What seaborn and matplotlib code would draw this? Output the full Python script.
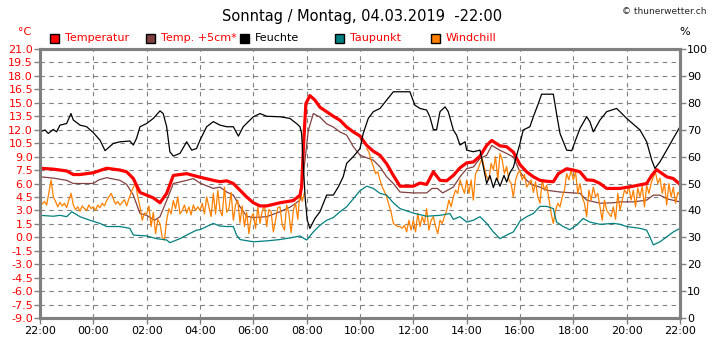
import numpy as np
import pandas as pd
import matplotlib
matplotlib.use("Agg")
import matplotlib.pyplot as plt
import seaborn as sns
from matplotlib.patches import Rectangle

# ---------------- data (hours since 22:00) ----------------
temp_t = [0.0, 0.5, 1.0, 1.25, 1.5, 2.0, 2.5, 3.0, 3.25, 3.5, 3.75, 4.0, 4.25, 4.5, 4.75, 5.0, 5.5, 6.0,
          6.5, 6.75, 7.0, 7.25, 7.5, 7.75, 8.0, 8.25, 8.5, 9.0, 9.5, 9.75, 9.81, 9.88, 9.97, 10.12, 10.31,
          10.5, 11.0, 11.25, 11.5, 11.75, 12.0, 12.25, 12.5, 12.75, 13.0, 13.25, 13.5, 14.0, 14.25, 14.5,
          14.75, 15.0, 15.25, 15.5, 15.75, 16.0, 16.25, 16.5, 16.75, 16.94, 17.25, 17.5, 17.75, 18.0,
          18.25, 18.5, 18.75, 19.0, 19.25, 19.44, 19.75, 20.0, 20.25, 20.5, 20.75, 21.0, 21.25, 21.75,
          22.25, 22.75, 22.94, 23.12, 23.5, 23.75, 24.0]
temp_v = [7.7, 7.6, 7.4, 7.0, 7.0, 7.2, 7.7, 7.5, 7.3, 6.55, 5.0, 4.7, 4.4, 3.85, 4.9, 6.9, 7.1, 6.7,
          6.35, 6.2, 6.3, 6.0, 5.25, 4.5, 3.85, 3.5, 3.5, 3.85, 4.1, 4.7, 5.6, 10.1, 14.9, 15.8, 15.3,
          14.5, 13.5, 13.05, 12.3, 11.75, 11.3, 10.25, 9.6, 9.15, 8.2, 6.9, 5.7, 5.7, 6.05, 5.9,
          7.3, 6.35, 6.3, 6.9, 7.75, 8.3, 8.4, 9.05, 10.25, 10.8, 10.2, 10.1, 9.5, 8.1,
          7.3, 6.75, 6.35, 6.25, 6.2, 7.1, 7.65, 7.5, 7.3, 6.4, 6.35, 6.0, 5.45, 5.45,
          5.7, 6.0, 6.9, 7.55, 6.75, 6.55, 5.9]

soil_t = [0.0, 0.5, 1.0, 1.25, 2.0, 2.2, 2.5, 3.0, 3.25, 3.5, 3.75, 4.0, 4.3, 4.5, 4.75, 5.0, 5.5, 5.75,
          6.0, 6.5, 6.75, 7.0, 7.25, 7.5, 7.75, 8.0, 8.5, 9.0, 9.4, 9.75, 9.88, 10.06, 10.25, 10.5, 10.75,
          11.0, 11.25, 11.5, 11.75, 12.0, 12.5, 12.75, 13.0, 13.25, 13.5, 14.0, 14.5, 14.7, 14.9, 15.1,
          15.5, 15.75, 16.0, 16.25, 16.5, 16.75, 16.94, 17.25, 17.5, 17.75, 18.0, 18.25, 18.5, 18.75,
          19.0, 19.5, 20.0, 20.25, 20.5, 21.0, 21.5, 21.75, 22.25, 22.75, 23.0, 23.25, 23.5, 24.0]
soil_v = [6.75, 6.6, 6.35, 6.0, 6.0, 6.4, 6.65, 6.35, 5.9, 4.7, 2.65, 2.45, 1.9, 2.3, 4.1, 6.0, 6.35, 6.55,
          6.05, 5.45, 5.6, 5.05, 4.7, 3.4, 2.35, 2.2, 2.3, 2.85, 3.4, 4.15, 7.1, 11.9, 13.8, 13.4, 12.65,
          12.3, 11.75, 11.4, 10.1, 9.15, 8.6, 7.85, 6.75, 6.0, 5.05, 4.95, 4.95, 5.45, 5.45, 4.95,
          5.6, 6.75, 7.65, 7.85, 8.8, 9.15, 10.25, 9.7, 9.35, 8.95, 7.3, 6.35, 5.8, 5.6,
          5.25, 5.05, 4.95, 4.9, 4.15, 3.8, 3.85, 3.95, 3.95, 4.15, 4.7, 4.7, 4.3, 3.95]

hum_t = [0.0, 0.19, 0.31, 0.5, 0.62, 0.75, 1.0, 1.16, 1.25, 1.5, 1.75, 2.0, 2.25, 2.44, 2.75, 3.0, 3.37,
         3.5, 3.62, 3.75, 4.0, 4.25, 4.5, 4.62, 4.75, 4.87, 5.0, 5.25, 5.5, 5.69, 5.87, 6.0, 6.25, 6.5,
         6.75, 7.0, 7.25, 7.44, 7.62, 8.0, 8.25, 8.5, 9.0, 9.37, 9.62, 9.75, 9.81, 9.94, 10.02, 10.12,
         10.31, 10.5, 10.75, 11.0, 11.19, 11.37, 11.5, 11.75, 12.0, 12.12, 12.31, 12.5, 12.75, 13.0,
         13.25, 13.87, 14.06, 14.25, 14.5, 14.62, 14.75, 14.87, 15.0, 15.19, 15.31, 15.5, 15.62, 15.75,
         15.94, 16.0, 16.25, 16.5, 16.75, 16.87, 17.0, 17.12, 17.25, 17.4, 17.5, 17.62, 17.75, 18.0,
         18.12, 18.37, 18.5, 18.69, 18.81, 19.25, 19.37, 19.5, 19.75, 19.94, 20.06, 20.25, 20.5, 20.62,
         20.75, 21.0, 21.25, 21.62, 21.75, 22.0, 22.5, 22.75, 22.94, 23.06, 23.25, 23.5, 23.75, 24.0]
hum_v = [69.2, 69.9, 68.6, 70.1, 69.2, 71.7, 72.3, 76.0, 73.6, 71.7, 71.1, 68.9, 66.1, 62.2, 64.9, 65.5, 65.8,
         64.3, 66.8, 71.1, 72.3, 74.2, 77.0, 76.0, 71.1, 61.8, 60.2, 61.2, 65.5, 62.4, 63.0, 66.1, 71.1, 73.0,
         71.7, 71.1, 71.1, 67.6, 71.1, 74.8, 76.0, 75.0, 74.8, 74.2, 72.3, 71.1, 68.6, 45.1, 36.4, 33.3,
         37.0, 39.5, 45.7, 45.7, 48.8, 52.5, 57.5, 60.0, 63.0, 68.6, 74.2, 76.7, 77.9, 81.0,
         84.1, 84.1, 79.1, 77.9, 77.3, 74.8, 70.1, 69.9, 76.7, 78.5, 76.7, 69.9, 68.0, 64.3,
         65.5, 62.4, 61.8, 62.4, 50.0, 53.0, 48.5, 52.0, 49.0, 53.0, 50.5, 54.0, 56.0, 64.9,
         69.9, 71.1, 74.8, 79.8, 83.2, 83.2, 76.0, 68.6, 62.4, 62.2, 65.5, 70.5, 74.8, 73.0,
         69.2, 73.6, 76.7, 77.9, 76.7, 74.2, 69.9, 65.5, 58.7, 55.6, 58.1, 62.4, 66.8, 71.1]

dew_t = [0.0, 0.5, 0.75, 1.0, 1.19, 1.5, 1.87, 2.25, 2.5, 3.0, 3.37, 3.5, 4.0, 4.37, 4.75, 4.87, 5.25, 5.5,
         5.87, 6.0, 6.5, 6.75, 7.0, 7.25, 7.37, 7.5, 8.0, 8.5, 9.0, 9.5, 9.75, 10.0, 10.25, 10.5, 10.75,
         11.0, 11.25, 11.5, 11.75, 12.0, 12.25, 12.5, 12.75, 13.0, 13.25, 13.5, 14.0, 14.5, 15.0, 15.37,
         15.5, 15.75, 16.0, 16.25, 16.5, 16.75, 17.0, 17.25, 17.5, 17.75, 18.0, 18.25, 18.5, 18.75, 19.0,
         19.25, 19.37, 19.62, 19.87, 20.12, 20.37, 20.62, 21.0, 21.5, 21.75, 22.0, 22.5, 22.75, 22.87,
         23.0, 23.25, 23.5, 23.75, 24.0]
dew_v = [2.45, 2.35, 2.45, 2.3, 2.85, 2.3, 1.9, 1.55, 1.2, 1.2, 1.0, 0.25, 0.15, -0.15, -0.3, -0.6, -0.15, 0.25,
         0.8, 0.85, 1.55, 1.25, 1.2, 1.2, 0.25, -0.25, -0.5, -0.4, -0.25, 0.0, 0.15, -0.3, 0.6, 1.35, 1.9,
         2.2, 2.85, 3.4, 4.3, 5.2, 5.7, 5.45, 4.9, 4.7, 3.85, 3.2, 2.7, 2.35, 2.45, 2.65,
         2.0, 2.3, 1.7, 1.9, 2.3, 1.55, 0.6, -0.15, 0.25, 0.6, 1.8, 2.3, 2.65, 3.45, 3.45,
         3.2, 1.7, 1.2, 0.85, 1.35, 2.1, 1.7, 1.45, 1.55, 1.45, 1.2, 1.0, 0.8, 0.05,
         -0.85, -0.5, 0.05, 0.6, 1.0]

# windchill every 5 minutes (one row per 2 h), NaN where not shown (T > 10 degC)
nan = np.nan
wind_v = [
    4.3, 3.7, 4.0, 3.6, 5.0, 6.4, 4.5, 4.0, 3.4, 3.9, 3.5, 3.8, 3.3, 4.2, 4.9, 3.6, 3.1, 3.4, 2.9, 3.5, 3.2, 3.0, 3.6, 3.2,
    3.4, 3.0, 3.6, 3.3, 3.8, 3.5, 4.1, 4.5, 4.9, 4.3, 3.7, 4.0, 3.6, 3.9, 4.2, 3.5, 4.3, 5.0, 5.6, 6.0, 4.5, 3.4, 1.9, 2.7,
    2.6, 3.5, 1.2, 2.8, 0.4, 2.0, 1.5, 0.0, -0.3, 1.9, 3.2, 2.6, 4.1, 3.2, 4.5, 2.6, 3.0, 3.6, 2.7, 3.4, 2.5, 3.6, 3.0, 3.4,
    3.0, 3.8, 2.6, 4.5, 3.4, 2.3, 4.9, 2.6, 5.25, 3.0, 2.4, 5.6, 2.8, 3.2, 5.0, 1.9, 3.6, 4.15, 1.6, 3.5, 1.2, 2.8, 0.4, 2.2,
    2.65, 1.0, 3.4, 1.55, 2.9, 3.6, 1.2, 3.1, 2.85, 0.6, 1.9, 3.3, 3.4, 1.4, 0.8, 3.6, 2.65, 0.5, 3.0, 3.8, 2.0, 5.25, 4.0, 5.0,
    nan, nan, nan, nan, nan, nan, nan, nan, nan, nan, nan, nan, nan, nan, nan, nan, nan, nan, nan, nan, nan, nan, nan, nan,
    nan, nan, nan, 9.9, 9.5, 8.6, 7.9, 7.1, 7.3, 6.4, 5.6, 5.1, 4.5, 3.6, 2.8, 1.55, 1.35, 1.2, 1.2, 1.0, 1.35, 0.6, 1.9, 0.8,
    1.9, 0.6, 2.65, 1.2, 2.3, 1.55, 3.2, 0.8, 1.9, 2.3, 1.2, 0.4, 1.9, 1.55, 2.3, 3.0, 4.15, 3.4, 4.5, 5.25, 4.9, 6.4, 5.6, 4.9,
    6.4, 4.9, 6.4, 4.15, 7.1, 7.5, 8.25, 8.8, 7.7, 6.75, 6.4, 8.25, 7.5, 9.0, 6.4, 9.35, 8.6, 7.1, 7.9, 6.4, 6.0, 4.5, 6.4, 7.1,
    7.5, 6.4, 7.0, 5.6, 6.0, 6.4, 5.0, 6.2, 4.5, 3.8, 6.4, 5.25, 5.8, 4.3, 2.65, 1.55, 3.0, 3.8, 3.4, 4.5, 5.25, 7.1, 6.4, 7.5,
    6.4, 7.3, 4.9, 6.0, 4.5, 3.8, 2.3, 5.25, 4.15, 5.6, 4.5, 4.9, 3.4, 1.9, 4.15, 3.0, 2.65, 2.3, 3.4, 2.0, 4.9, 3.0, 4.15, 5.25,
    4.9, 5.6, 4.15, 5.25, 3.4, 5.5, 4.5, 5.7, 3.4, 5.8, 4.9, 6.0, 6.75, 7.2, 6.0, 6.6, 4.9, 6.0, 3.6, 6.0, 4.5, 5.6, 3.8, 5.0,
    4.7]
wind_t = [k / 12 for k in range(len(wind_v))]

hour_labels = ["22:00", "00:00", "02:00", "04:00", "06:00", "08:00", "10:00",
               "12:00", "14:00", "16:00", "18:00", "20:00", "22:00"]

# ---------------- styling ----------------
sns.set_theme(style="white")
plt.rcParams['font.family'] = ['DejaVu Sans']

W, H = 718, 353
L, R, T, B = 40, 680, 49, 318
fig = plt.figure(figsize=(W / 100, H / 100), dpi=100)
fig.patch.set_facecolor("white")
ax = fig.add_axes([L / W, 1 - B / H, (R - L) / W, (B - T) / H])
ax2 = ax.twinx()

GRAY = "#808080"

# windchill in segments (break where undefined)
wdf = pd.DataFrame({"t": wind_t, "v": wind_v})
wdf["seg"] = wdf["v"].isna().cumsum()
wdf = wdf.dropna()

sns.lineplot(x=soil_t, y=soil_v, ax=ax, color="#804040", lw=0.9, estimator=None, sort=False, legend=False)
sns.lineplot(data=wdf, x="t", y="v", units="seg", ax=ax, color="#ff8000", lw=0.9,
             estimator=None, sort=False, legend=False)
sns.lineplot(x=dew_t, y=dew_v, ax=ax, color="#008080", lw=0.9, estimator=None, sort=False, legend=False)
sns.lineplot(x=temp_t, y=temp_v, ax=ax, color="#ff0000", lw=2.3, estimator=None, sort=False, legend=False)
sns.lineplot(x=hum_t, y=hum_v, ax=ax2, color="#000000", lw=0.9, estimator=None, sort=False, legend=False)

ax.set_xlim(0, 24)
ax.set_ylim(-9, 21)
ax2.set_ylim(0, 100)

yt = [round(-9 + 1.5 * i, 1) for i in range(21)]
ax.set_yticks(yt)
ax.set_yticklabels([f"{v:.1f}" for v in yt])
ax.set_xticks(list(range(0, 25, 2)))
ax.set_xticklabels(hour_labels)
ax2.set_yticks(list(range(0, 101, 10)))
ax2.set_yticklabels([str(v) for v in range(0, 101, 10)])

ax.set_xlabel("")
ax.set_ylabel("")
ax2.set_ylabel("")

ax.tick_params(axis="y", which="both", left=True, labelcolor="red", color=GRAY,
               length=4, width=1, labelsize=8, pad=1)
ax.tick_params(axis="x", bottom=True, labelcolor="black", color=GRAY,
               length=4, width=1, labelsize=8, pad=2)
ax2.tick_params(axis="y", right=True, labelcolor="black", color=GRAY,
                length=4, width=1, labelsize=8, pad=1)

ax.grid(True, color=GRAY, linestyle=(0, (4, 4)), linewidth=0.8)
ax2.grid(False)

for a in (ax, ax2):
    for s in a.spines.values():
        s.set_color(GRAY)
        s.set_linewidth(2.2)
        s.set_visible(True)

# ---------------- texts ----------------
fig.text(362 / W, 1 - 16 / H, "Sonntag / Montag, 04.03.2019  -22:00",
         ha="center", va="center", fontsize=10.5, color="black")
fig.text(707 / W, 1 - 12 / H, "\u00a9 thunerwetter.ch", ha="right", va="center", fontsize=6.5)
fig.text(25 / W, 1 - 32 / H, "°C", color="red", ha="center", va="center", fontsize=8)
fig.text(685 / W, 1 - 32 / H, "%", color="black", ha="center", va="center", fontsize=8)

legend_items = [("Temperatur", "#ff0000", 50, "red"),
                ("Temp. +5cm*", "#804040", 146, "red"),
                ("Feuchte", "#000000", 240, "black"),
                ("Taupunkt", "#008080", 335, "red"),
                ("Windchill", "#ff8000", 431, "red")]
for label, col, x0, tcol in legend_items:
    fig.add_artist(Rectangle((x0 / W, 1 - 43 / H), 9 / W, 9 / H, transform=fig.transFigure,
                             facecolor=col, edgecolor="black", linewidth=1))
    fig.text((x0 + 15) / W, 1 - 38 / H, label, color=tcol, ha="left", va="center", fontsize=8)

fig.savefig("out.png", dpi=100, facecolor="white")
